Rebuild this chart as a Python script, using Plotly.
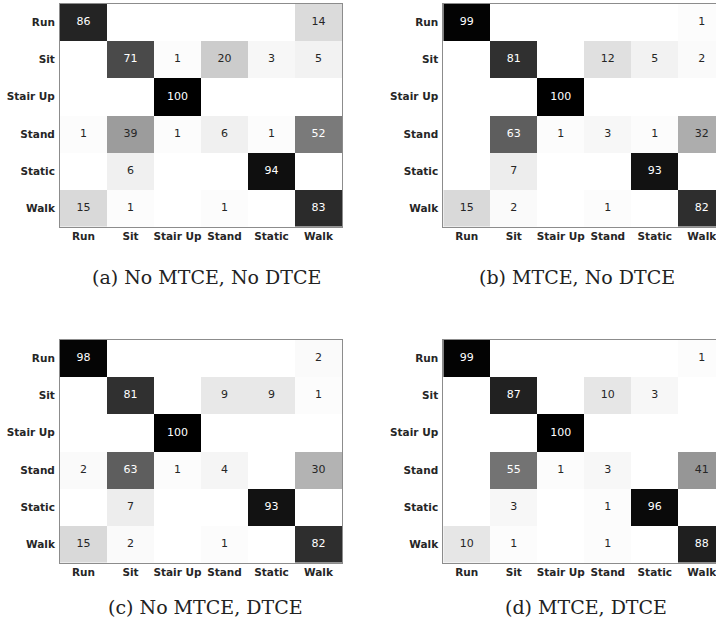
import plotly.graph_objects as go

labels = ["Run", "Sit", "Stair Up", "Stand", "Static", "Walk"]

cm_a = [
    [86, 0, 0, 0, 0, 14],
    [0, 71, 1, 20, 3, 5],
    [0, 0, 100, 0, 0, 0],
    [1, 39, 1, 6, 1, 52],
    [0, 6, 0, 0, 94, 0],
    [15, 1, 0, 1, 0, 83],
]
cm_b = [
    [99, 0, 0, 0, 0, 1],
    [0, 81, 0, 12, 5, 2],
    [0, 0, 100, 0, 0, 0],
    [0, 63, 1, 3, 1, 32],
    [0, 7, 0, 0, 93, 0],
    [15, 2, 0, 1, 0, 82],
]
cm_c = [
    [98, 0, 0, 0, 0, 2],
    [0, 81, 0, 9, 9, 1],
    [0, 0, 100, 0, 0, 0],
    [2, 63, 1, 4, 0, 30],
    [0, 7, 0, 0, 93, 0],
    [15, 2, 0, 1, 0, 82],
]
cm_d = [
    [99, 0, 0, 0, 0, 1],
    [0, 87, 0, 10, 3, 0],
    [0, 0, 100, 0, 0, 0],
    [0, 55, 1, 3, 0, 41],
    [0, 3, 0, 1, 96, 0],
    [10, 1, 0, 1, 0, 88],
]
captions = ["(a) No MTCE, No DTCE", "(b) MTCE, No DTCE",
            "(c) No MTCE, DTCE", "(d) MTCE, DTCE"]

W, H = 716, 626
# panel geometry in pixels: (left, top), cell size
CW, CH = 47.0, 37.1
panels = [(60.0, 4.0), (443.3, 4.0), (60.0, 340.0), (443.3, 340.0)]
cap_pos = [(206, 277), (577, 277), (205, 607), (586, 607)]
mats = [cm_a, cm_b, cm_c, cm_d]

fig = go.Figure()

for i, (cm, (px, py)) in enumerate(zip(mats, panels)):
    ax = "" if i == 0 else str(i + 1)
    xa, ya = "x" + ax, "y" + ax
    full_w = 6 * CW
    right = min(px + full_w, W)
    xmax = -0.5 + (right - px) / CW
    fig.add_trace(go.Heatmap(
        z=cm, x=labels, y=labels, xaxis=xa, yaxis=ya,
        zmin=0, zmax=100,
        colorscale=[[0, "#ffffff"], [1, "#000000"]],
        showscale=False, hoverinfo="skip",
    ))
    for dark in (False, True):
        xs, ys, ts = [], [], []
        for r, row in enumerate(cm):
            for c, v in enumerate(row):
                if v > 0 and ((v > 50) == dark):
                    xs.append(labels[c]); ys.append(labels[r]); ts.append(str(v))
        fig.add_trace(go.Scatter(
            x=xs, y=ys, text=ts, mode="text", xaxis=xa, yaxis=ya,
            textfont=dict(family="DejaVu Sans", size=11,
                          color="#ffffff" if dark else "#262626"),
            showlegend=False, hoverinfo="skip", cliponaxis=False,
        ))
    bottom = py + 6 * CH
    fig.layout["xaxis" + ax] = dict(
        domain=[px / W, right / W], anchor=ya, range=[-0.5, xmax],
        type="category", showgrid=False, zeroline=False, automargin=False,
        showline=True, linecolor="#8c8c8c", linewidth=1, mirror=True,
        tickfont=dict(family="DejaVu Sans", size=10.5, color="#262626", weight="bold"),
        ticks="", fixedrange=True,
    )
    fig.layout["yaxis" + ax] = dict(
        domain=[1 - bottom / H, 1 - py / H], anchor=xa,
        range=[5.5, -0.5], type="category", showgrid=False, zeroline=False,
        automargin=False,
        showline=True, linecolor="#8c8c8c", linewidth=1, mirror=(i % 2 == 0),
        tickfont=dict(family="DejaVu Sans", size=10.5, color="#262626", weight="bold"),
        ticks="outside", ticklen=2, tickcolor="rgba(0,0,0,0)",
        fixedrange=True,
    )
    cx, cy = cap_pos[i]
    fig.add_annotation(
        text=captions[i], xref="paper", yref="paper",
        x=cx / W, y=1 - cy / H, xanchor="center", yanchor="middle",
        showarrow=False,
        font=dict(family="DejaVu Serif", size=19, color="#222222"),
    )

fig.update_layout(
    width=W, height=H, margin=dict(l=0, r=0, t=0, b=0),
    paper_bgcolor="white", plot_bgcolor="white", showlegend=False,
)
fig.write_html("out.html", config={"displayModeBar": False},
               post_script="document.body.style.margin='0';document.body.style.overflow='hidden';")
